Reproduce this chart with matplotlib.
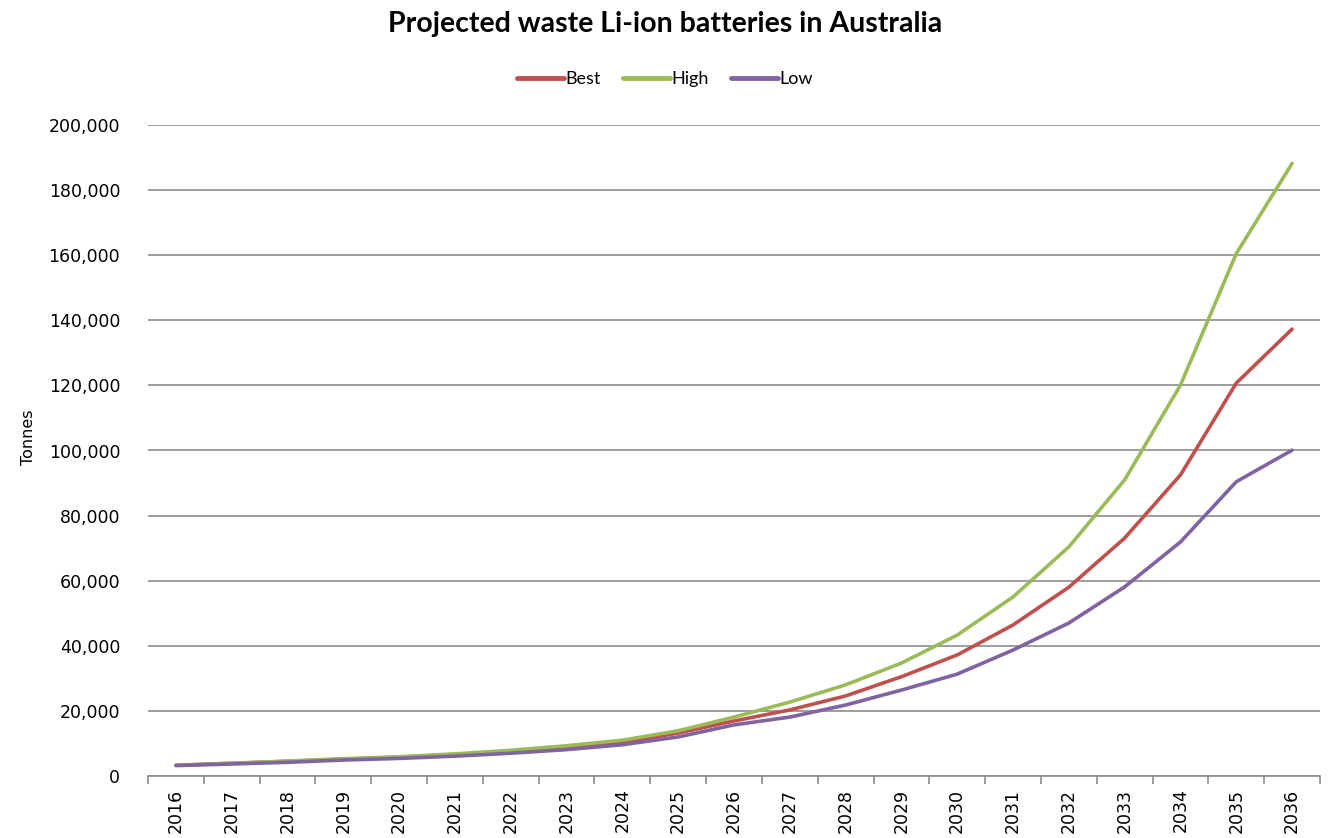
import matplotlib
matplotlib.use("Agg")
import matplotlib.pyplot as plt
from matplotlib.ticker import FuncFormatter, FixedLocator

# Values (tonnes)
years = [str(y) for y in range(2016, 2037)]
best = [3300, 3900, 4500, 5200, 5800, 6600, 7600, 8800, 10300, 13200, 16900,
        20300, 24600, 30500, 37200, 46400, 58000, 73100, 92500, 120700, 137300]
high = [3300, 3900, 4600, 5300, 5900, 6800, 7900, 9300, 11000, 13900, 18100,
        22700, 28000, 34700, 43300, 55000, 70400, 91000, 120100, 160500, 188200]
low = [3200, 3700, 4200, 4900, 5400, 6100, 7000, 8100, 9600, 12000, 15700,
       18100, 21800, 26400, 31300, 38700, 47000, 58100, 71900, 90400, 100100]

series_names = ["Best", "High", "Low"]
series_colors = ["#C0504D", "#9BBB59", "#8064A2"]

W, H = 1330, 838
fig = plt.figure(figsize=(W / 100, H / 100), dpi=100)
ax = fig.add_axes([148 / W, (H - 776) / H, (1320 - 148) / W, (776 - 125) / H])

x = list(range(len(years)))
for name, vals, col in zip(series_names, [best, high, low], series_colors):
    ax.plot(x, vals, color=col, linewidth=2.6, label=name,
            solid_capstyle="round", solid_joinstyle="round")

ax.set_xlim(-0.5, len(years) - 0.5)
ax.set_ylim(0, 200000)
ax.set_yticks(range(0, 200001, 20000))
ax.yaxis.set_major_formatter(FuncFormatter(lambda v, p: "{:,.0f}".format(v)))
ax.grid(axis="y", color="#8C8C8C", linewidth=1.2)
ax.set_axisbelow(True)

ax.set_xticks(x)
ax.set_xticklabels(years, rotation=90)
ax.xaxis.set_minor_locator(FixedLocator([i - 0.5 for i in range(len(years) + 1)]))
ax.tick_params(axis="x", which="major", length=0, pad=9, labelsize=12.5)
ax.tick_params(axis="x", which="minor", length=6, width=1.2, color="#8C8C8C")
ax.tick_params(axis="y", length=0, pad=20, labelsize=12.5)

for s in ["top", "right", "left"]:
    ax.spines[s].set_visible(False)
ax.spines["bottom"].set_color("#8C8C8C")
ax.spines["bottom"].set_linewidth(1.2)

ax.set_ylabel("Tonnes", fontsize=11.5, labelpad=14)
ax.yaxis.set_label_coords(-112 / (1320 - 148), 0.52)

fig.text(0.5, 1 - 24 / H, "Projected waste Li-ion batteries in Australia",
         ha="center", va="center", fontsize=20.5, fontweight="bold", family="Lato")

leg = fig.legend(loc="center", bbox_to_anchor=(0.5, 1 - 79 / H), ncol=3,
                 frameon=False, prop={"family": "Lato", "size": 13},
                 handlelength=2.6, handletextpad=0.1, columnspacing=1.2)
for line in leg.get_lines():
    line.set_linewidth(3.5)

fig.savefig("out.png", dpi=100)
